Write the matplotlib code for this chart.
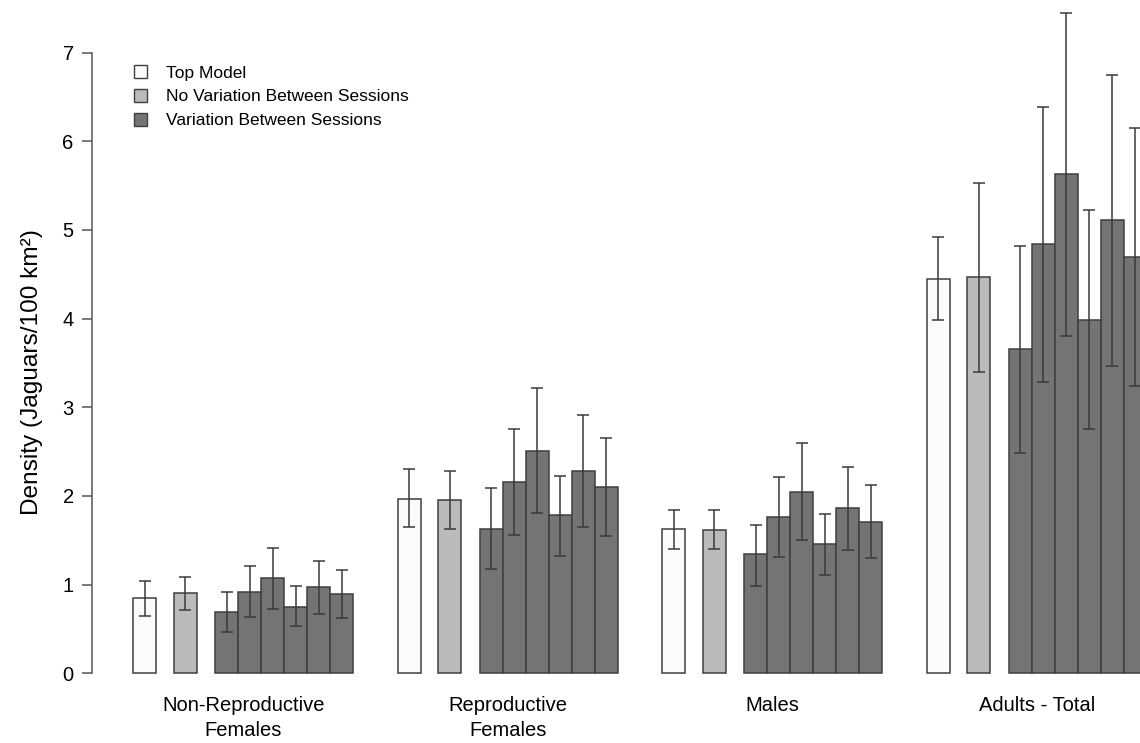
import matplotlib
matplotlib.use("Agg")
import matplotlib.pyplot as plt
from matplotlib.patches import Patch
import numpy as np

plt.rcParams['font.family'] = ['Liberation Sans', 'DejaVu Sans']

groups = ["Non-Reproductive\nFemales", "Reproductive\nFemales", "Males", "Adults - Total"]
series_names = ["Top Model", "No Variation Between Sessions", "Variation Between Sessions"]

top_est = [0.85, 1.97, 1.63, 4.45]
top_lo = [0.65, 1.65, 1.40, 3.98]
top_hi = [1.04, 2.30, 1.84, 4.92]

nov_est = [0.90, 1.95, 1.62, 4.47]
nov_lo = [0.71, 1.63, 1.40, 3.40]
nov_hi = [1.09, 2.28, 1.84, 5.53]

var_est = [[0.69, 0.92, 1.07, 0.75, 0.97, 0.89],
           [1.63, 2.16, 2.51, 1.78, 2.28, 2.10],
           [1.34, 1.76, 2.05, 1.46, 1.86, 1.71],
           [3.66, 4.84, 5.63, 3.99, 5.11, 4.70]]
var_lo = [[0.47, 0.63, 0.72, 0.53, 0.67, 0.62],
          [1.18, 1.56, 1.81, 1.32, 1.65, 1.55],
          [0.99, 1.31, 1.50, 1.11, 1.39, 1.30],
          [2.49, 3.28, 3.80, 2.76, 3.47, 3.24]]
var_hi = [[0.92, 1.21, 1.41, 0.98, 1.27, 1.16],
          [2.09, 2.76, 3.22, 2.23, 2.91, 2.65],
          [1.67, 2.21, 2.60, 1.80, 2.33, 2.12],
          [4.82, 6.39, 7.45, 5.22, 6.75, 6.15]]

yticks = [0, 1, 2, 3, 4, 5, 6, 7]

c_white = '#fcfcfc'
c_gray = '#bbbbbb'
c_dark = '#747474'
c_edge = '#3f3f3f'
c_err = '#3a3a3a'

W, H = 1140, 743
fig = plt.figure(figsize=(W / 100, H / 100), dpi=100)
ax = fig.add_axes([92 / W, (H - 673.3) / H, 1 - 92 / W, 673.3 / H])

stride = 11.5
gap = 1.78
dark_off = 3.58
g_idx = np.arange(len(groups))

bar_kw = dict(width=1.0, align='edge', edgecolor=c_edge, linewidth=1.1, clip_on=False)
err_kw = dict(fmt='none', ecolor=c_err, elinewidth=1.1, capsize=4.3, capthick=1.1, clip_on=False)

x_top = g_idx * stride
x_nov = g_idx * stride + gap
ax.bar(x_top, top_est, color=c_white, **bar_kw)
ax.bar(x_nov, nov_est, color=c_gray, **bar_kw)
ax.errorbar(x_top + 0.5, top_est,
            yerr=[np.array(top_est) - np.array(top_lo), np.array(top_hi) - np.array(top_est)], **err_kw)
ax.errorbar(x_nov + 0.5, nov_est,
            yerr=[np.array(nov_est) - np.array(nov_lo), np.array(nov_hi) - np.array(nov_est)], **err_kw)

for g in g_idx:
    est = np.array(var_est[g])
    lo = np.array(var_lo[g])
    hi = np.array(var_hi[g])
    xs = g * stride + dark_off + np.arange(len(est))
    ax.bar(xs, est, color=c_dark, **bar_kw)
    ax.errorbar(xs + 0.5, est, yerr=[est - lo, hi - est], **err_kw)

ax.set_xlim(-41 / 23, (1140 - 133) / 23)
ax.set_ylim(0, 673.3 / 88.67)

for s in ['top', 'right', 'bottom']:
    ax.spines[s].set_visible(False)
ax.spines['left'].set_bounds(0, 7)
ax.spines['left'].set_color('#555555')
ax.spines['left'].set_linewidth(1.1)
ax.set_yticks(yticks)
ax.set_yticklabels([str(t) for t in yticks])
ax.tick_params(axis='y', length=7.2, width=1.1, color='#555555', pad=6, labelsize=14.5)

centers = g_idx * stride + (dark_off + 6) / 2
ax.set_xticks(centers)
ax.set_xticklabels(groups, fontsize=14.5, linespacing=1.45)
ax.tick_params(axis='x', length=0, pad=16)

ax.set_ylabel("Density (Jaguars/100 km²)", fontsize=17.6)
ax.yaxis.set_label_coords(-0.047, 0.4475)

handles = [Patch(facecolor=c_white, edgecolor=c_edge, linewidth=1.0),
           Patch(facecolor=c_gray, edgecolor=c_edge, linewidth=1.0),
           Patch(facecolor=c_dark, edgecolor=c_edge, linewidth=1.0)]
fig.legend(handles, series_names, loc='upper left', bbox_to_anchor=(134 / W, 1 - 65 / H),
           frameon=False, fontsize=12.5, handlelength=0.77, handleheight=0.77,
           handletextpad=1.05, labelspacing=0.48, borderpad=0, borderaxespad=0)

fig.savefig("out.png", dpi=100)
